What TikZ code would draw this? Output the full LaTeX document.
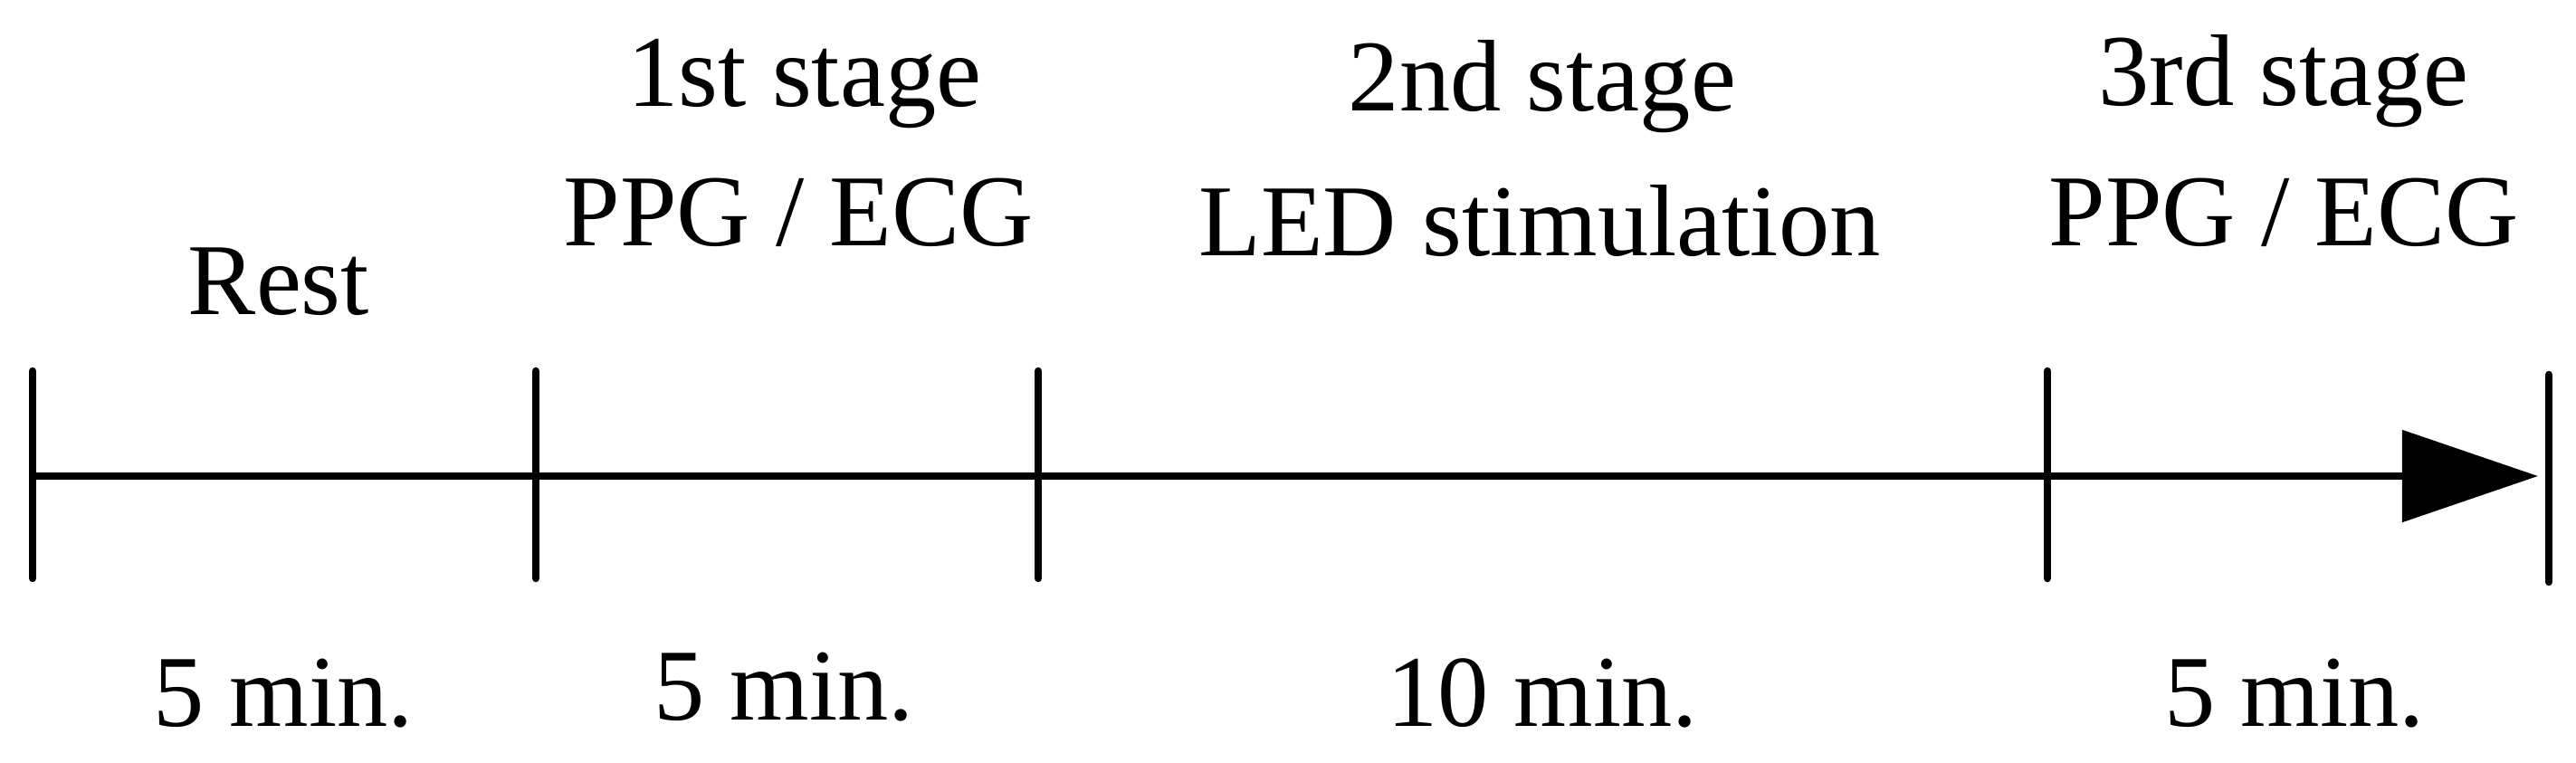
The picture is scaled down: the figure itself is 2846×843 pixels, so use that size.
\documentclass[tikz,border=0pt]{standalone}
\usepackage{fontspec}
\setmainfont{Liberation Serif}
\usetikzlibrary{arrows.meta}
\begin{document}
\begin{tikzpicture}[x=0.01cm,y=-0.01cm,
  lbl/.style={anchor=base, inner sep=0pt, font=\fontsize{32}{38}\selectfont},
  axisline/.style={line width=2.4pt},
  tickline/.style={line width=2.4pt, line cap=round}]
\useasboundingbox (0,0) rectangle (2846,843);
% axis points
\coordinate (t0) at (36,526);
\coordinate (tip) at (2804,526);
% ticks
\coordinate (a0) at (36,410);   \coordinate (b0) at (36,639);
\coordinate (a1) at (592,410);  \coordinate (b1) at (592,639);
\coordinate (a2) at (1147,410); \coordinate (b2) at (1147,639);
\coordinate (a3) at (2262,410); \coordinate (b3) at (2262,639);
\coordinate (a4) at (2816,414); \coordinate (b4) at (2816,643);
\draw[tickline] (a0) -- (b0);
\draw[tickline] (a1) -- (b1);
\draw[tickline] (a2) -- (b2);
\draw[tickline] (a3) -- (b3);
\draw[tickline] (a4) -- (b4);
\draw[axisline,-{Triangle[length=1.5cm,width=1cm]}] (t0) -- (tip);
% top labels
\node[lbl] (rest) at (308,348) {Rest};
\node[lbl] (s1a) at (889,118) {1st stage};
\node[lbl] (s1b) at (882,272) {PPG / ECG};
\node[lbl] (s2a) at (1704,123) {2nd stage};
\node[lbl] (s2b) at (1701,283) {LED stimulation};
\node[lbl] (s3a) at (2523,117) {3rd stage};
\node[lbl] (s3b) at (2523,272) {PPG / ECG};
% durations
\node[lbl] (d0) at (313,802) {5 min.};
\node[lbl] (d1) at (866,795) {5 min.};
\node[lbl] (d2) at (1704,802) {10 min.};
\node[lbl] (d3) at (2535,802) {5 min.};
\end{tikzpicture}
\end{document}
